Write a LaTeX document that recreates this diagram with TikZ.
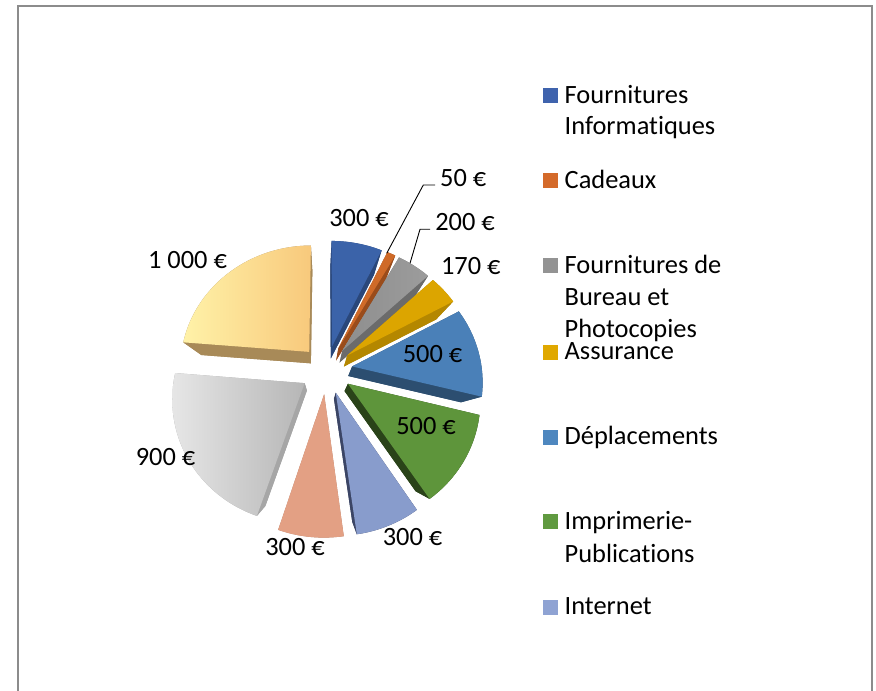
\documentclass[tikz,border=0pt]{standalone}
\usepackage{fontspec}
\setmainfont{Carlito}[Ligatures={NoCommon,NoContextual}]
\newcommand\nolig{\kern0pt }
\definecolor{cBlue}{HTML}{3B63A9}
\definecolor{cBlueS}{HTML}{2A477A}
\definecolor{cOrange}{HTML}{CF6A28}
\definecolor{cOrangeS}{HTML}{9A4C1B}
\definecolor{cGrayA}{HTML}{8E8E8E}
\definecolor{cGrayAL}{HTML}{9C9C9C}
\definecolor{cGrayAS}{HTML}{6B6B6B}
\definecolor{cGold}{HTML}{DCA500}
\definecolor{cGoldS}{HTML}{B48700}
\definecolor{cDep}{HTML}{4A80B8}
\definecolor{cDepS}{HTML}{2C4E70}
\definecolor{cGreen}{HTML}{5E953B}
\definecolor{cGreenS}{HTML}{2A4319}
\definecolor{cNet}{HTML}{889CCC}
\definecolor{cNetS}{HTML}{3B4565}
\definecolor{cSalmon}{HTML}{E3A084}
\definecolor{cSalmonS}{HTML}{B07A63}
\definecolor{cGrayBL}{HTML}{E6E6E6}
\definecolor{cGrayBR}{HTML}{B6B6B6}
\definecolor{cGrayBS}{HTML}{A6A6A6}
\definecolor{cYelL}{HTML}{FFF2A8}
\definecolor{cYelR}{HTML}{F8C97C}
\definecolor{cYelS}{HTML}{A88A58}
\definecolor{lBlue}{HTML}{3F63AD}
\definecolor{lOrange}{HTML}{D46A2A}
\definecolor{lGray}{HTML}{939393}
\definecolor{lGold}{HTML}{E0A800}
\definecolor{lDep}{HTML}{4E87BF}
\definecolor{lGreen}{HTML}{609A40}
\definecolor{lNet}{HTML}{8FA3D3}
\definecolor{frameGray}{HTML}{8C8C8C}
% wall (dark side) of a slice: start, end, explosion, colour
\newcommand\slwall[4]{%
  \pgfmathsetmacro\slM{(#1+#2)/2}%
  \pgfmathsetmacro\slX{#3*sin(\slM)}%
  \pgfmathsetmacro\slY{#3*cos(\slM)}%
  \fill[#4] plot[domain=#1:#2,samples=40,variable=\t]
    ({bx(\slX+sin(\t),\slY+cos(\t))},{by(\slX+sin(\t),\slY+cos(\t))})
    -- ({bx(\slX,\slY)},{by(\slX,\slY)}) -- cycle;
  \fill[#4] ({sx(\slX,\slY)},{sy(\slX,\slY)})
    -- ({sx(\slX+sin(#1),\slY+cos(#1))},{sy(\slX+sin(#1),\slY+cos(#1))})
    -- ({bx(\slX+sin(#1),\slY+cos(#1))},{by(\slX+sin(#1),\slY+cos(#1))})
    -- ({bx(\slX,\slY)},{by(\slX,\slY)}) -- cycle;
  \fill[#4] ({sx(\slX,\slY)},{sy(\slX,\slY)})
    -- ({sx(\slX+sin(#2),\slY+cos(#2))},{sy(\slX+sin(#2),\slY+cos(#2))})
    -- ({bx(\slX+sin(#2),\slY+cos(#2))},{by(\slX+sin(#2),\slY+cos(#2))})
    -- ({bx(\slX,\slY)},{by(\slX,\slY)}) -- cycle;
  \fill[#4] plot[domain=#1:#2,samples=40,variable=\t]
    ({sx(\slX+sin(\t),\slY+cos(\t))},{sy(\slX+sin(\t),\slY+cos(\t))})
    -- plot[domain=0:1,samples=40,variable=\s]
    ({bx(\slX+sin(#2-\s*(#2-#1)),\slY+cos(#2-\s*(#2-#1)))},{by(\slX+sin(#2-\s*(#2-#1)),\slY+cos(#2-\s*(#2-#1)))})
    -- cycle;
}
% top face of a slice: start, end, explosion, style
\newcommand\sltop[4]{%
  \pgfmathsetmacro\slM{(#1+#2)/2}%
  \pgfmathsetmacro\slX{#3*sin(\slM)}%
  \pgfmathsetmacro\slY{#3*cos(\slM)}%
  \path[#4] plot[domain=#1:#2,samples=40,variable=\t]
    ({sx(\slX+sin(\t),\slY+cos(\t))},{sy(\slX+sin(\t),\slY+cos(\t))})
    -- ({sx(\slX,\slY)},{sy(\slX,\slY)}) -- cycle;
}
\begin{document}
\begin{tikzpicture}[x=1pt,y=1pt,
  declare function={
    sx(\p,\q)=326.5+129.7*\p/(1+0.11*\q);
    sy(\p,\q)=321.5+121.7*\q/(1+0.11*\q);
    bx(\p,\q)=322+0.87*(sx(\p,\q)-322);
    by(\p,\q)=251+0.87*(sy(\p,\q)-251);
  },
  lbl/.style={font=\fontsize{26.4}{32}\selectfont, inner sep=0pt, anchor=base},
  legtxt/.style={font=\fontsize{26.4}{32}\selectfont, inner sep=0pt, anchor=base west},
  legsq/.style={minimum size=15pt, inner sep=0pt, anchor=south west, draw=none},
  leader/.style={draw=black, line width=0.9pt}
]
\useasboundingbox (0,0) rectangle (876,691);
\fill[white] (0,0) rectangle (876,691);
\draw[frameGray, line width=1.6pt] (18,0) -- (18,685) -- (872,685) -- (872,0);

% walls
\slwall{0}{25.592}{0.2}{cBlueS}
\slwall{25.592}{29.858}{0.2}{cOrangeS}
\slwall{29.858}{46.919}{0.2}{cGrayAS}
\slwall{46.919}{61.422}{0.2}{cGoldS}
\slwall{274.692}{360}{0.2}{cYelS}
\slwall{61.422}{104.076}{0.2}{cDepS}
\slwall{104.076}{146.730}{0.2}{cGreenS}
\slwall{146.730}{172.322}{0.2}{cNetS}
\slwall{172.322}{197.915}{0.2}{cSalmonS}
\slwall{197.915}{274.692}{0.2}{cGrayBS}

% top faces
\sltop{0}{25.592}{0.2}{fill=cBlue}
\sltop{25.592}{29.858}{0.2}{fill=cOrange}
\sltop{29.858}{46.919}{0.2}{shade, left color=cGrayA, right color=cGrayAL}
\sltop{46.919}{61.422}{0.2}{fill=cGold}
\sltop{274.692}{360}{0.2}{shade, left color=cYelL, right color=cYelR}
\sltop{61.422}{104.076}{0.2}{fill=cDep}
\sltop{104.076}{146.730}{0.2}{fill=cGreen}
\sltop{146.730}{172.322}{0.2}{fill=cNet}
\sltop{172.322}{197.915}{0.2}{fill=cSalmon}
\sltop{197.915}{274.692}{0.2}{shade, left color=cGrayBL, right color=cGrayBR}

% data labels
\node[lbl] (v1) at (359,464.3) {300 €};
\node[lbl] (v2) at (463.3,504.3) {50 €};
\node[lbl] (v3) at (465,460) {200 €};
\node[lbl] (v4) at (470.8,416.7) {170 €};
\node[lbl] (v5) at (432.5,328.3) {500 €};
\node[lbl] (v6) at (426,256.7) {500 €};
\node[lbl] (v7) at (412.5,145) {300 €};
\node[lbl] (v8) at (295,135) {300 €};
\node[lbl] (v9) at (165.5,225) {900 €};
\node[lbl] (v10) at (187.5,422.7) {1 000 €};

% leader lines
\coordinate (k2a) at (386.7,437.7);
\coordinate (k2b) at (423.3,506);
\coordinate (k2c) at (435,506);
\draw[leader] (k2a) -- (k2b) -- (k2c);
\coordinate (k3a) at (410,427.7);
\coordinate (k3b) at (420,461.7);
\coordinate (k3c) at (430,461.7);
\draw[leader] (k3a) -- (k3b) -- (k3c);

% legend
\node[legsq, fill=lBlue] (s1) at (543,587.7) {};
\node[legtxt] (t1a) at (564.5,587.7) {Fournitures};
\node[legtxt] (t1b) at (564.5,556) {Informat\nolig iques};
\node[legsq, fill=lOrange] (s2) at (543,502.7) {};
\node[legtxt] (t2) at (564.5,502.7) {Cadeaux};
\node[legsq, fill=lGray] (s3) at (543,417.7) {};
\node[legtxt] (t3a) at (564.5,417.7) {Fournitures de};
\node[legtxt] (t3b) at (564.5,385) {Bureau et};
\node[legtxt] (t3c) at (564.5,353.3) {Photocopies};
\node[legsq, fill=lGold] (s4) at (543,331) {};
\node[legtxt] (t4) at (564.5,331) {Assurance};
\node[legsq, fill=lDep] (s5) at (543,246) {};
\node[legtxt] (t5) at (564.5,246) {Déplacements};
\node[legsq, fill=lGreen] (s6) at (543,161.7) {};
\node[legtxt] (t6a) at (564.5,161.7) {Imprimerie-};
\node[legtxt] (t6b) at (564.5,128.7) {Publicat\nolig ions};
\node[legsq, fill=lNet] (s7) at (543,76) {};
\node[legtxt] (t7) at (564.5,76) {Internet};
\end{tikzpicture}
\end{document}
